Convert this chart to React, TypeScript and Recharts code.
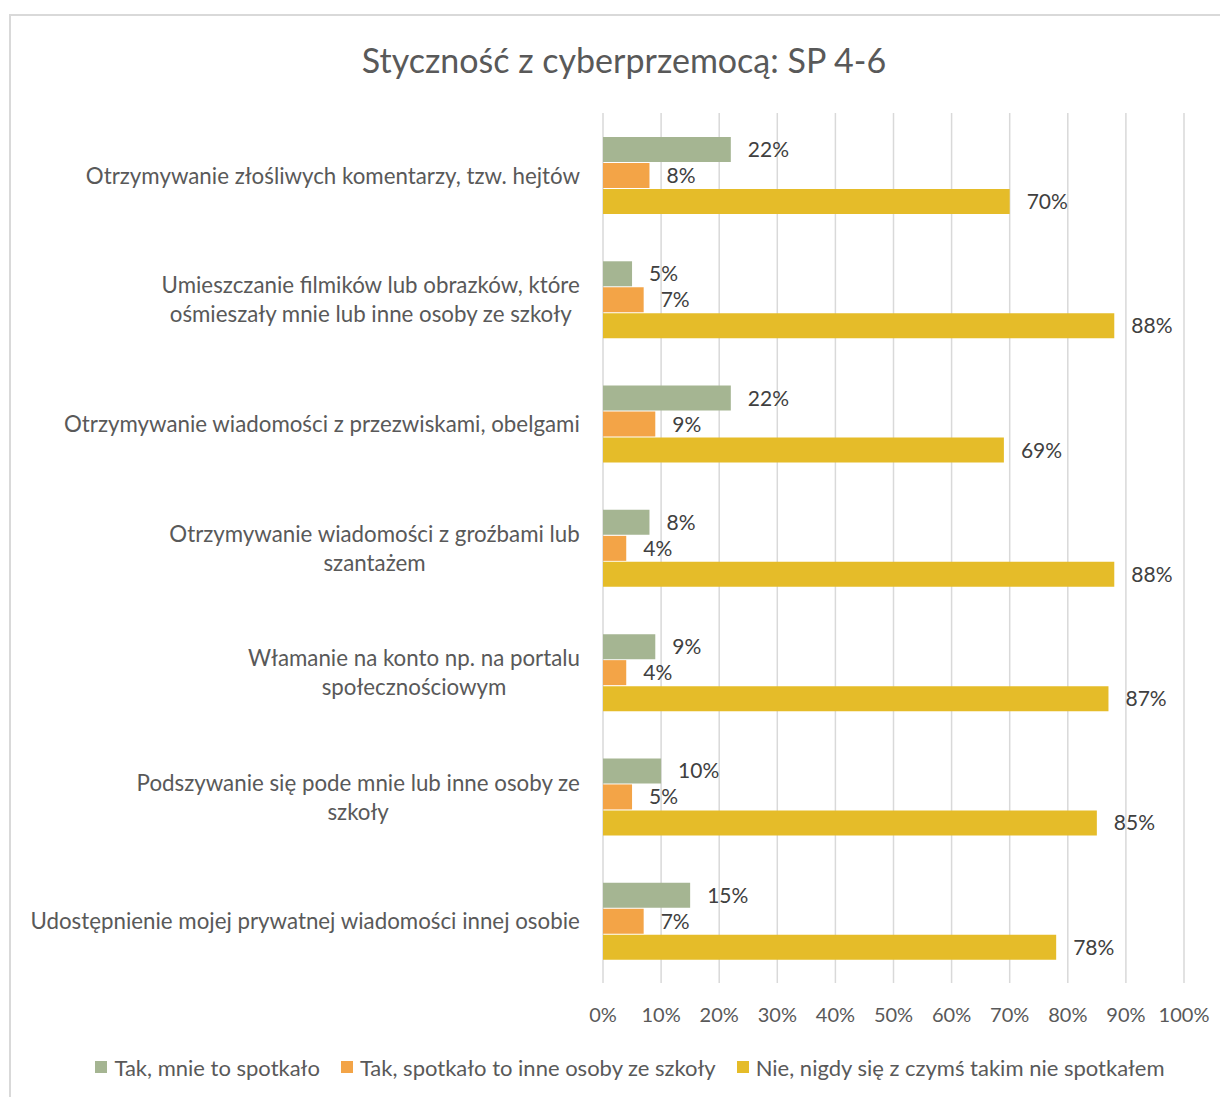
import React from "react";
import { BarChart, Bar, XAxis, YAxis, CartesianGrid, LabelList } from "recharts";

const categories = [
  "Otrzymywanie złośliwych komentarzy, tzw. hejtów",
  "Umieszczanie filmików lub obrazków, które\nośmieszały mnie lub inne osoby ze szkoły",
  "Otrzymywanie wiadomości z przezwiskami, obelgami",
  "Otrzymywanie wiadomości z groźbami lub\nszantażem",
  "Włamanie na konto np. na portalu\nspołecznościowym",
  "Podszywanie się pode mnie lub inne osoby ze\nszkoły",
  "Udostępnienie mojej prywatnej wiadomości innej osobie",
];
const seriesNames = [
  "Tak, mnie to spotkało",
  "Tak, spotkało to inne osoby ze szkoły",
  "Nie, nigdy się z czymś takim nie spotkałem",
];
const tak = [22, 5, 22, 8, 9, 10, 15];
const inni = [8, 7, 9, 4, 4, 5, 7];
const nie = [70, 88, 69, 88, 87, 85, 78];
const xTicks = [0, 10, 20, 30, 40, 50, 60, 70, 80, 90, 100];
const title = "Styczność z cyberprzemocą: SP 4-6";

const colors = ["#A5B592", "#F3A447", "#E5BC29"];
const FONT = "Lato, 'Open Sans', sans-serif";
const TEXT = "#595959";

const data = categories.map((name, i) => ({ name, tak: tak[i], inni: inni[i], nie: nie[i] }));

let ctx: CanvasRenderingContext2D | null = null;
function measure(t: string, size: number) {
  if (!ctx) ctx = document.createElement("canvas").getContext("2d");
  if (!ctx) return t.length * size * 0.5;
  ctx.font = `${size}px Lato`;
  return ctx.measureText(t).width;
}

const YTick = (props: any) => {
  const { x, y, payload } = props;
  const lines: string[] = String(payload.value).split("\n");
  const size = 22.3;
  const w = Math.max(...lines.map((l) => measure(l, size)));
  const cx = x - 23 - w / 2;
  const lh = 29;
  return (
    <g>
      {lines.map((l, i) => (
        <text
          key={i}
          x={cx}
          y={y + (i - (lines.length - 1) / 2) * lh}
          textAnchor="middle"
          dominantBaseline="central"
          fill={TEXT}
          fontSize={size}
          fontFamily={FONT}
        >
          {l}
        </text>
      ))}
    </g>
  );
};

const XTick = (props: any) => {
  const { x, y, payload } = props;
  return (
    <text x={x} y={y + 31} textAnchor="middle" dominantBaseline="central" fill={TEXT} fontSize={20} fontFamily={FONT}>
      {payload.value}%
    </text>
  );
};

const fmt = (v: any) => `${v}%`;

export default function App() {
  const keys = ["tak", "inni", "nie"];
  return (
    <div style={{ position: "relative", width: 1220, height: 1089, overflow: "hidden", background: "#fff" }}>
      <div
        style={{
          position: "absolute",
          left: 1,
          top: 6,
          width: 1260,
          height: 1200,
          border: "2px solid #D9D9D9",
          boxSizing: "border-box",
        }}
      />
      <div
        style={{
          position: "absolute",
          left: 616 - 400,
          width: 800,
          top: 52 - 22,
          height: 44,
          lineHeight: "44px",
          textAlign: "center",
          fontFamily: FONT,
          fontSize: 34,
          color: TEXT,
        }}
      >
        {title}
      </div>
      <div style={{ position: "absolute", left: 0, top: 0 }}>
        <BarChart
          width={1220}
          height={1089}
          data={data}
          layout="vertical"
          margin={{ top: 105, right: 44, bottom: 74, left: 0 }}
          barSize={25}
          barGap={1}
        >
          <CartesianGrid horizontal={false} vertical={true} stroke="#D9D9D9" strokeWidth={1.5} />
          <XAxis
            type="number"
            domain={[0, 100]}
            ticks={xTicks}
            interval={0}
            axisLine={false}
            tickLine={false}
            tickSize={0}
            tickMargin={0}
            height={40}
            tick={<XTick />}
          />
          <YAxis
            type="category"
            dataKey="name"
            width={595}
            axisLine={false}
            tickLine={false}
            tickSize={0}
            tickMargin={0}
            interval={0}
            tick={<YTick />}
          />
          {keys.map((k, i) => (
            <Bar key={k} dataKey={k} name={seriesNames[i]} fill={colors[i]} isAnimationActive={false}>
              <LabelList
                dataKey={k}
                position="right"
                offset={17}
                formatter={fmt}
                fill="#404040"
                fontSize={21}
                fontFamily={FONT}
              />
            </Bar>
          ))}
        </BarChart>
      </div>
      <div
        style={{
          position: "absolute",
          left: 622 - 600,
          width: 1200,
          top: 1059 - 15,
          height: 30,
          display: "flex",
          justifyContent: "center",
          alignItems: "center",
          fontFamily: FONT,
          fontSize: 22,
          color: TEXT,
          whiteSpace: "nowrap",
        }}
      >
        {seriesNames.map((n, i) => (
          <div key={n} style={{ display: "flex", alignItems: "center", marginRight: i < 2 ? 21 : 0 }}>
            <span style={{ display: "inline-block", width: 12, height: 12, background: colors[i], marginRight: 7 }} />
            <span>{n}</span>
          </div>
        ))}
      </div>
    </div>
  );
}
